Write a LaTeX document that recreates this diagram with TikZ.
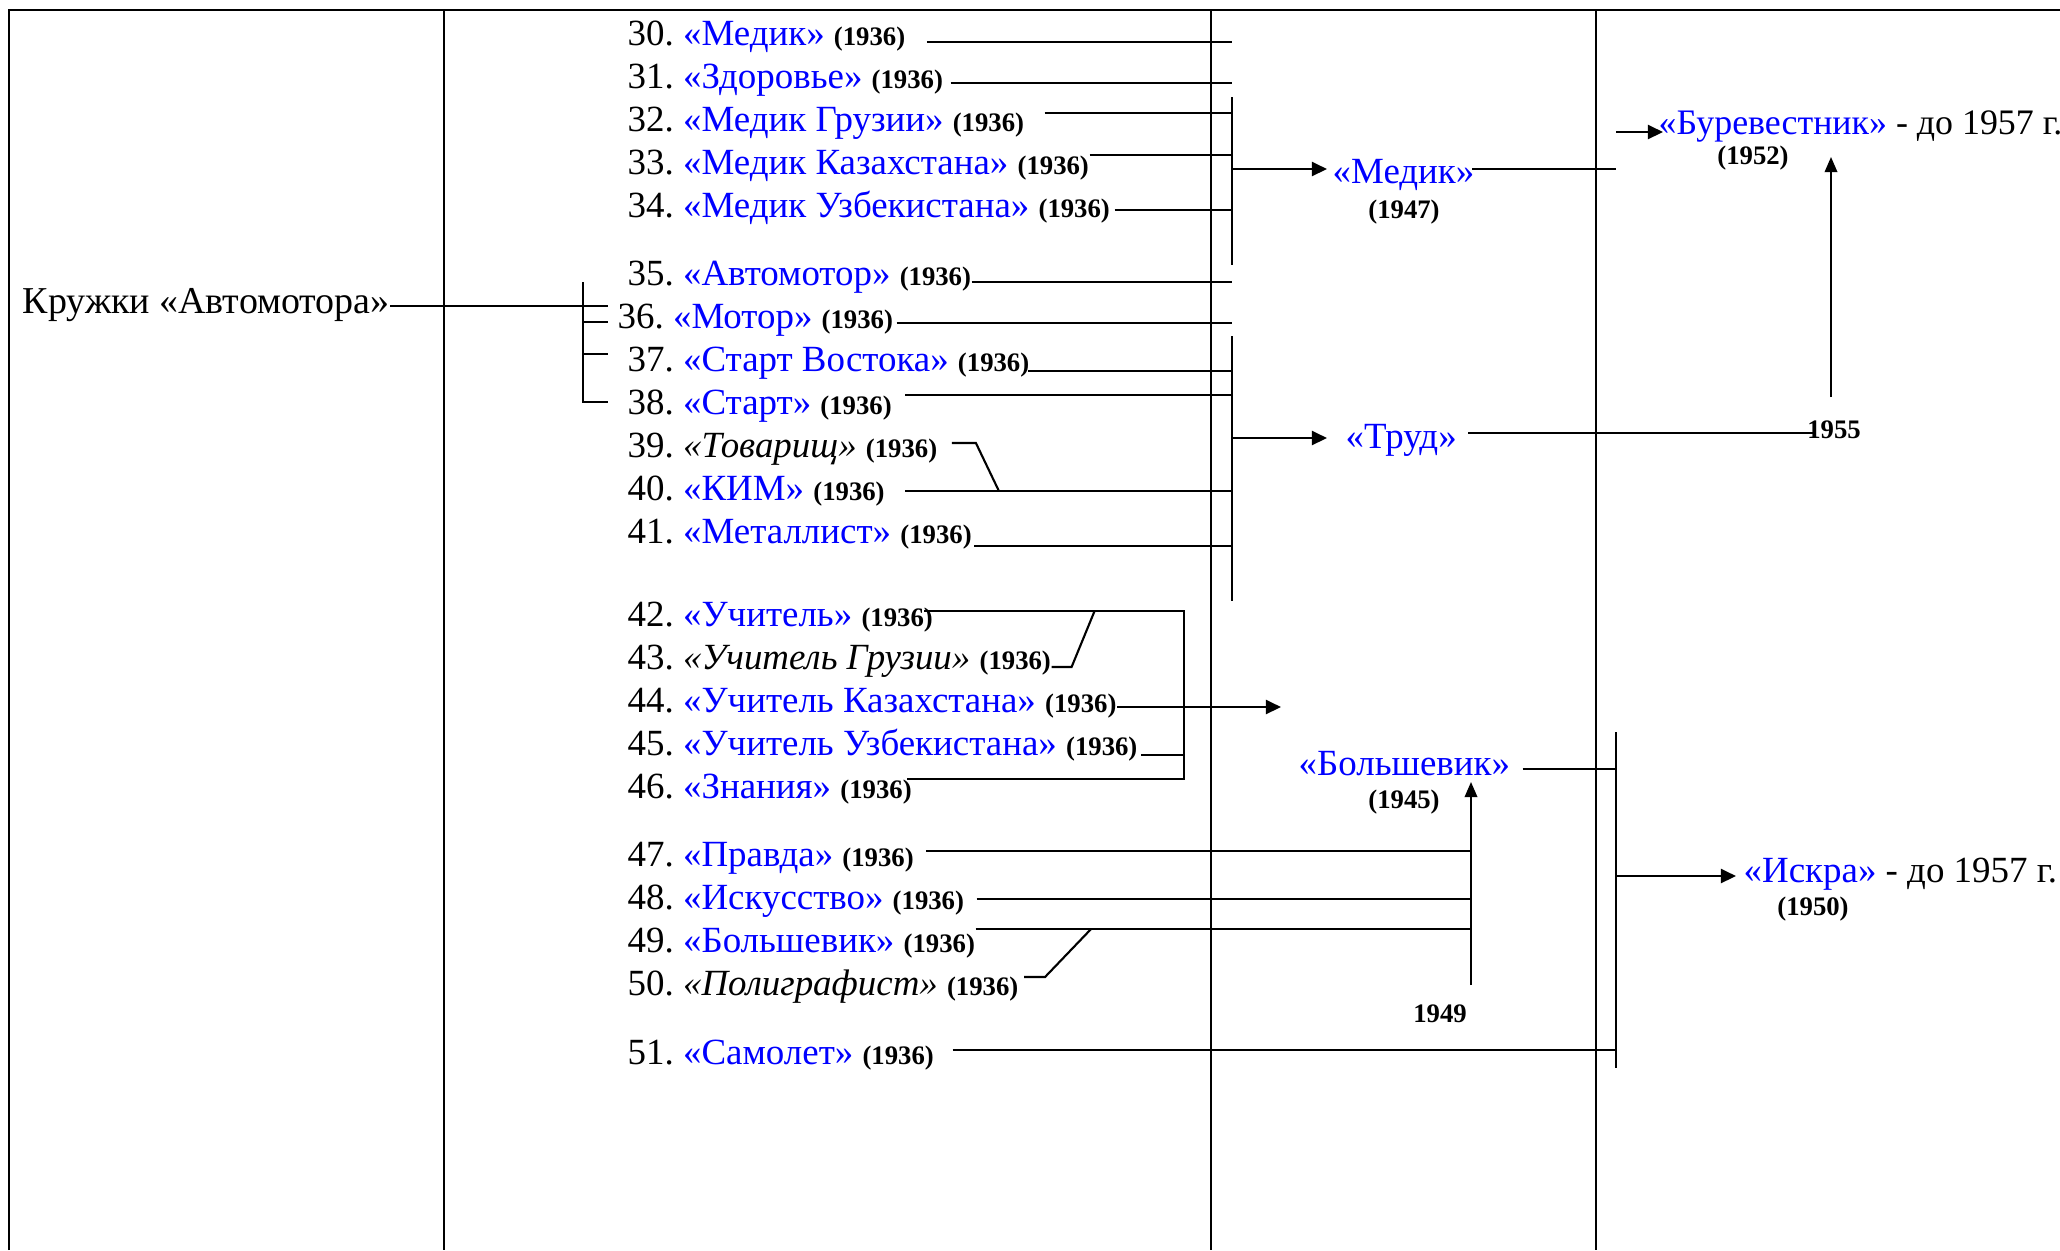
\documentclass[tikz,border=0pt]{standalone}
\usepackage{fontspec}
\setmainfont{Liberation Serif}
\usetikzlibrary{arrows.meta}
\frenchspacing

\newcommand{\kname}[1]{\textcolor{blue}{«#1»}}
\newcommand{\kital}[1]{\textit{«#1»}}
\newcommand{\god}[1]{{\fontsize{7.6}{9}\selectfont\bfseries #1}}

\tikzset{
  every node/.style={inner sep=0pt, font=\fontsize{10.5}{12}\selectfont},
  punkt/.style={anchor=base west},
  godlab/.style={font=\fontsize{7.6}{9}\selectfont\bfseries},
  ramka/.style={line width=0.75pt},
  svyaz/.style={line width=0.6pt},
  strelka/.style={line width=0.6pt, -{Triangle[length=4.3pt,width=4pt]}},
  vverh/.style={line width=0.45pt, -{Triangle[length=4.3pt,width=3.6pt]}}
}

\begin{document}
\begin{tikzpicture}[x=0.01cm,y=-0.01cm]
    \useasboundingbox (0,0) rectangle (2060,1250);
    %\draw [step=100] (0,0) grid (2060,1250);
    \draw[ramka] (9,1250) -- (9,10) -- (2060,10);
    \draw[ramka] (444,10) -- (444,1250);
    \draw[line width=0.45pt] (1211,10) -- (1211,1250);
    \draw[ramka] (1596,10) -- (1596,1250);

    \node[punkt, font=\fontsize{10.8}{12}\selectfont] (krug) at (22,313) {Кружки «Автомотора»};

    \node[punkt] (i30) at (627,45) {30. \kname{Медик} \god{(1936)}};
    \node[punkt] (i31) at (627,88) {31. \kname{Здоровье} \god{(1936)}};
    \node[punkt] (i32) at (627,131) {32. \kname{Медик Грузии} \god{(1936)}};
    \node[punkt] (i33) at (627,174) {33. \kname{Медик Казахстана} \god{(1936)}};
    \node[punkt] (i34) at (627,217) {34. \kname{Медик Узбекистана} \god{(1936)}};
    \node[punkt] (i35) at (627,285) {35. \kname{Автомотор} \god{(1936)}};
    \node[punkt] (i36) at (617,328) {36. \kname{Мотор} \god{(1936)}};
    \node[punkt] (i37) at (627,371) {37. \kname{Старт Востока} \god{(1936)}};
    \node[punkt] (i38) at (627,414) {38. \kname{Старт} \god{(1936)}};
    \node[punkt] (i39) at (627,457) {39. \kital{Товарищ} \god{(1936)}};
    \node[punkt] (i40) at (627,500) {40. \kname{КИМ} \god{(1936)}};
    \node[punkt] (i41) at (627,543) {41. \kname{Металлист} \god{(1936)}};
    \node[punkt] (i42) at (627,626) {42. \kname{Учитель} \god{(1936)}};
    \node[punkt] (i43) at (627,669) {43. \kital{Учитель Грузии} \god{(1936)}};
    \node[punkt] (i44) at (627,712) {44. \kname{Учитель Казахстана} \god{(1936)}};
    \node[punkt] (i45) at (627,755) {45. \kname{Учитель Узбекистана} \god{(1936)}};
    \node[punkt] (i46) at (627,798) {46. \kname{Знания} \god{(1936)}};
    \node[punkt] (i47) at (627,866) {47. \kname{Правда} \god{(1936)}};
    \node[punkt] (i48) at (627,909) {48. \kname{Искусство} \god{(1936)}};
    \node[punkt] (i49) at (627,952) {49. \kname{Большевик} \god{(1936)}};
    \node[punkt] (i50) at (627,995) {50. \kital{Полиграфист} \god{(1936)}};
    \node[punkt] (i51) at (627,1064) {51. \kname{Самолет} \god{(1936)}};

    \node[punkt] (medik) at (1332,183) {\kname{Медик}};
    \node[punkt] (trud) at (1345,448) {\kname{Труд}};
    \node[punkt] (bolsh) at (1298,775) {\kname{Большевик}};
    \node[punkt, font=\fontsize{10.2}{12}\selectfont] (bur) at (1658,134) {\kname{Буревестник} - до 1957 г.};
    \node[punkt] (iskra) at (1743,882) {\kname{Искра} - до 1957 г.};
    \node[godlab] (medikgod) at (1404,212) {(1947)};
    \node[godlab] (burgod) at (1753,158) {(1952)};
    \node[godlab] (bolshgod) at (1404,802) {(1945)};
    \node[godlab] (iskgod) at (1813,909) {(1950)};
    \node[godlab] (g1955) at (1834,430) {1955};
    \node[godlab] (g1949) at (1440,1014) {1949};

    \coordinate (brtop) at (583,282);
    \coordinate (brbot) at (583,402);
    \coordinate (medtop) at (1232,97);
    \coordinate (medbot) at (1232,265);
    \coordinate (trudtop) at (1232,336);
    \coordinate (trudbot) at (1232,601);
    \coordinate (uchtop) at (1184,611);
    \coordinate (uchbot) at (1184,779);
    \coordinate (uchstr) at (1281,707);
    \coordinate (bolbot) at (1471,985);
    \coordinate (isktop) at (1616,732);
    \coordinate (iskbot) at (1616,1068);

    % Кружки
    \draw[svyaz] (krug.east |- 0,306) -- ([shift={(25,0)}]brtop |- 0,306);
    \draw[svyaz] (brtop) -- (brbot) -- ++(25,0);
    \foreach \y in {322,354} \draw[svyaz] (brtop |- 0,\y) -- ++(25,0);

    % Медик
    \draw[svyaz] ([shift={(21,0)}]i30.east |- 0,42) -- (medtop |- 0,42);
    \draw[svyaz] ([shift={(7,0)}]i31.east |- 0,83) -- (medtop |- 0,83);
    \draw[svyaz] ([shift={(20,0)}]i32.east |- 0,113) -- (medtop |- 0,113);
    \draw[svyaz] (i33.east |- 0,155) -- (medtop |- 0,155);
    \draw[svyaz] ([shift={(4,0)}]i34.east |- 0,210) -- (medtop |- 0,210);
    \draw[svyaz] (medtop) -- (medbot);
    \draw[strelka] (medtop |- 0,169) -- ([shift={(-5,0)}]medik.west |- 0,169);
    \draw[svyaz] ([shift={(-3,0)}]medik.east |- 0,169) -- (isktop |- 0,169);
    \draw[strelka] (isktop |- 0,132) -- ([shift={(5,0)}]bur.west |- 0,132);
    \draw[vverh] ([shift={(-3,0)}]g1955.center |- 0,397) -- ++(0,-240);

    % Труд
    \draw[svyaz] (i35.east |- 0,282) -- (medtop |- 0,282);
    \draw[svyaz] ([shift={(3,0)}]i36.east |- 0,323) -- (medtop |- 0,323);
    \draw[svyaz] ([shift={(-2,0)}]i37.east |- 0,371) -- (trudtop |- 0,371);
    \draw[svyaz] ([shift={(13,0)}]i38.east |- 0,395) -- (trudtop |- 0,395);
    \draw[svyaz] ([shift={(14,0)}]i39.east |- 0,443) -- ++(24,0) -- ++(23,48);
    \draw[svyaz] ([shift={(20,0)}]i40.east |- 0,491) -- (trudtop |- 0,491);
    \draw[svyaz] ([shift={(2,0)}]i41.east |- 0,546) -- (trudtop |- 0,546);
    \draw[svyaz] (trudtop) -- (trudbot);
    \draw[strelka] (trudtop |- 0,438) -- ([shift={(-18,0)}]trud.west |- 0,438);
    \draw[svyaz] ([shift={(11,0)}]trud.east |- 0,433) -- ([shift={(6,0)}]g1955.west |- 0,433);

    % Учитель
    \draw[svyaz] ([shift={(-9,0)}]i42.east |- 0,611) -- (uchtop) -- (uchbot) -- ([shift={(-5,0)}]i46.east |- 0,779);
    \draw[svyaz] (i43.east |- 0,667) -- ++(20,0) -- ++(23,-56);
    \draw[strelka] (i44.east |- 0,707) -- (uchstr);
    \draw[svyaz] ([shift={(3,0)}]i45.east |- 0,755) -- (uchtop |- 0,755);

    % Большевик
    \draw[svyaz] ([shift={(12,0)}]i47.east |- 0,851) -- (bolbot |- 0,851);
    \draw[svyaz] ([shift={(12,0)}]i48.east |- 0,899) -- (bolbot |- 0,899);
    \draw[svyaz] (i49.east |- 0,929) -- (bolbot |- 0,929);
    \draw[svyaz] ([shift={(5,0)}]i50.east |- 0,977) -- ++(21,0) -- ++(46,-48);
    \draw[vverh] (bolbot) -- (bolbot |- 0,782);
    \draw[svyaz] ([shift={(12,0)}]bolsh.east |- 0,769) -- (isktop |- 0,769);

    % Искра
    \draw[svyaz] ([shift={(18,0)}]i51.east |- 0,1050) -- (isktop |- 0,1050);
    \draw[svyaz] (isktop) -- (iskbot);
    \draw[strelka] (isktop |- 0,876) -- ([shift={(-7,0)}]iskra.west |- 0,876);
\end{tikzpicture}
\end{document}
